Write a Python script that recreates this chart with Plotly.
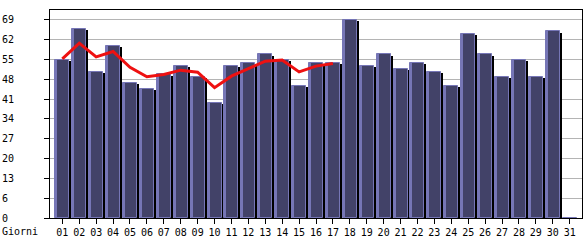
import plotly.graph_objects as go

days = list(range(1, 32))
day_labels = [f"{d:02d}" for d in days]
visits = [55, 66, 51, 60, 47, 45, 50, 53, 49, 40, 53, 54, 57, 55, 46, 54,
          54, 69, 53, 57, 52, 54, 51, 46, 64, 57, 49, 55, 49, 65, 0]
trend_days = list(range(1, 18))
trend = [55.4, 60.9, 56.1, 58.0, 52.5, 49.2, 50.0, 51.5, 50.8, 45.4, 49.4,
         52.0, 54.6, 55.0, 50.9, 52.9, 53.8]
ytick_vals = [0, 6.9, 13.8, 20.7, 27.6, 34.5, 41.4, 48.3, 55.2, 62.1, 69.0]
ytick_text = ["0", "6", "13", "20", "27", "34", "41", "48", "55", "62", "69"]
y_max = 72.45

FACE = "#424268"
LIGHT = "#7676b6"
PX = 16.94  # pixels per day unit

def u(px):
    return px / PX

fig = go.Figure()
# shadow
fig.add_trace(go.Bar(x=days, y=[max(v - 0.4, 0) for v in visits],
                     width=u(14), offset=-u(5), marker_color="#000000",
                     marker_line_width=0, hoverinfo="skip", showlegend=False))
# face
fig.add_trace(go.Bar(x=days, y=visits, width=u(14), offset=-u(7),
                     marker_color=FACE, marker_line_color=LIGHT,
                     marker_line_width=1, showlegend=False))
# left highlight
fig.add_trace(go.Bar(x=days, y=visits, width=u(2), offset=-u(7),
                     marker_color=LIGHT, marker_line_width=0,
                     hoverinfo="skip", showlegend=False))
# trend line
fig.add_trace(go.Scatter(x=trend_days, y=trend, mode="lines",
                         line=dict(color="#ee1111", width=3),
                         showlegend=False))

fig.update_layout(
    width=585, height=240,
    margin=dict(l=50, r=2, t=10, b=20),
    paper_bgcolor="white", plot_bgcolor="white",
    barmode="overlay", bargap=0,
    font=dict(family="DejaVu Sans Mono", size=10, color="black"),
    xaxis=dict(range=[0.27, 31.73], tickvals=days, ticktext=day_labels,
               ticks="outside", ticklen=5, tickcolor="black",
               showline=True, linecolor="black", linewidth=1, mirror=True,
               showgrid=False, zeroline=False, tickangle=0,
               tickfont=dict(family="DejaVu Sans Mono", size=10)),
    yaxis=dict(range=[0, y_max], tickvals=ytick_vals,
               ticktext=[t + "\u00a0" * (2 - len(t)) for t in ytick_text],
               ticks="outside", ticklen=5, tickcolor="black",
               showline=True, linecolor="black", linewidth=1, mirror=True,
               showgrid=True, gridcolor="#b4b4b4", gridwidth=1,
               zeroline=False, ticklabelstandoff=28,
               tickfont=dict(family="DejaVu Sans Mono", size=10)),
    annotations=[dict(text="Giorni", xref="paper", yref="paper",
                      x=-50 / 533, y=0, xanchor="left", yanchor="top",
                      yshift=-6, showarrow=False,
                      font=dict(family="DejaVu Sans Mono", size=10))],
)

fig.write_html("out.html")
